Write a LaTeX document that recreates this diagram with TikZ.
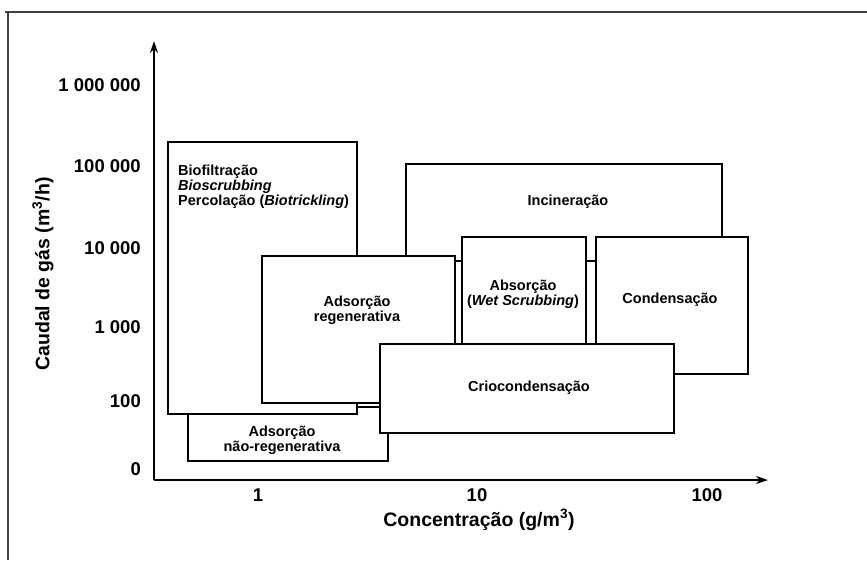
\documentclass[tikz,border=0pt]{standalone}
\usepackage{fontspec}
\setmainfont{Liberation Sans}
\usetikzlibrary{arrows.meta}
\begin{document}
\begin{tikzpicture}[x=1pt,y=-1pt,
  boxst/.style={draw=black, fill=white, line width=1.8pt, inner sep=0pt, outer sep=0pt, anchor=north west},
  boxtext/.style={font=\bfseries\fontsize{14.5}{15}\selectfont, align=center, inner sep=0pt},
  ticklab/.style={font=\bfseries\fontsize{18.5}{19}\selectfont, inner sep=0pt},
  axislab/.style={font=\bfseries\fontsize{19.5}{20}\selectfont, inner sep=0pt},
  axisline/.style={line width=1.8pt, -{Stealth[length=12pt,width=8pt]}},
  frameline/.style={line width=1.5pt, black!75}]
\useasboundingbox (0,0) rectangle (867,560);
\fill[white] (0,0) rectangle (867,560);
% frame
\coordinate (f1) at (5,12);
\coordinate (f2) at (867,12);
\coordinate (f3) at (8,12);
\coordinate (f4) at (8,560);
\draw[frameline] (f1) -- (f2);
\draw[frameline] (f3) -- (f4);
% boxes in painting order
\node[boxst, minimum width=316pt, minimum height=97pt] (ince) at (406,164) {};
\node[boxst, minimum width=200pt, minimum height=54pt] (nreg) at (188,407) {};
\node[boxst, minimum width=189pt, minimum height=272pt] (biof) at (168,142) {};
\node[boxst, minimum width=193pt, minimum height=147pt] (areg) at (262,256) {};
\node[boxst, minimum width=124pt, minimum height=163pt] (absr) at (462,237) {};
\node[boxst, minimum width=152pt, minimum height=137pt] (cond) at (596,237) {};
\node[boxst, minimum width=294pt, minimum height=89pt] (crio) at (380,344) {};
% box texts
\node[boxtext, align=left, anchor=north west] (tbiof) at (178,165)
  {Biofiltração\\\textit{Bioscrubbing}\\Percolação (\textit{Biotrickling})};
\node[boxtext] (tnreg) at (282,440) {Adsorção\\não-regenerativa};
\node[boxtext] (tareg) at (357,310) {Adsorção\\regenerativa};
\node[boxtext] (tince) at (568,202) {Incineração};
\node[boxtext] (tabsr) at (523,294) {Absorção\\(\textit{Wet Scrubbing})};
\node[boxtext] (tcond) at (670,300) {Condensação};
\node[boxtext] (tcrio) at (529,388) {Criocondensação};
% axes
\coordinate (O) at (154,480);
\coordinate (ytop) at (154,41);
\coordinate (xend) at (768,480);
\draw[axisline] (O) -- (ytop);
\draw[axisline] (O) -- (xend);
% y ticks
\node[ticklab, anchor=east] (y6) at (141,85) {1 000 000};
\node[ticklab, anchor=east] (y5) at (141,166) {100 000};
\node[ticklab, anchor=east] (y4) at (141,248) {10 000};
\node[ticklab, anchor=east] (y3) at (141,327) {1 000};
\node[ticklab, anchor=east] (y2) at (141,401) {100};
\node[ticklab, anchor=east] (y1) at (141,469) {0};
% x ticks
\node[ticklab] (x1) at (258,495) {1};
\node[ticklab] (x2) at (477,495) {10};
\node[ticklab] (x3) at (707,495) {100};
% axis labels
\node[axislab, rotate=90] (ylab) at (43,274) {Caudal de gás (m\textsuperscript{3}/h)};
\node[axislab] (xlab) at (479,520) {Concentração (g/m\textsuperscript{3})};
\end{tikzpicture}
\end{document}
